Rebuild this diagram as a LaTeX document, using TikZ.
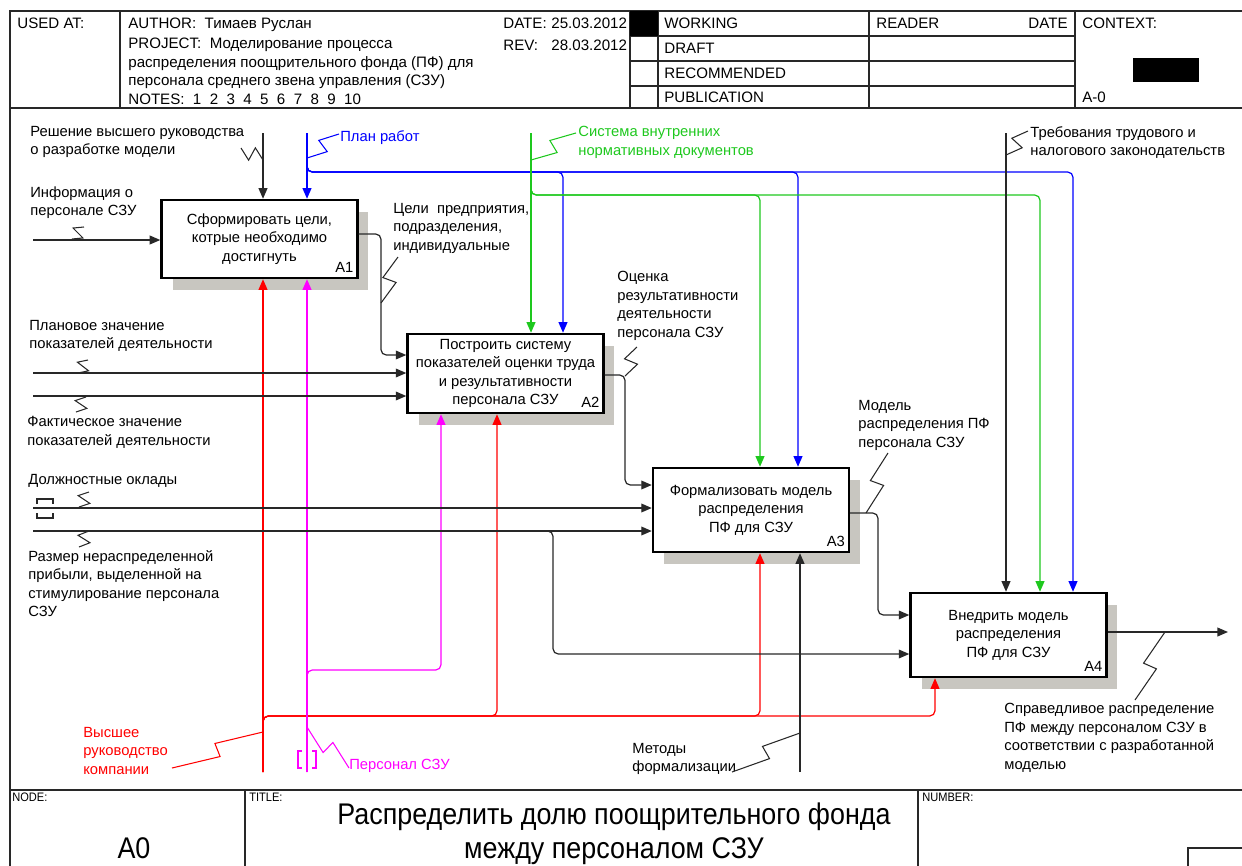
\documentclass[tikz,border=0pt]{standalone}
\usepackage{fontspec}
\setmainfont{Liberation Sans}
\newfontfamily\narrowfont[FakeStretch=0.9]{Liberation Sans}
\usetikzlibrary{arrows.meta,calc,shadows}

\definecolor{shadowgray}{RGB}{200,198,192}
\definecolor{ctrlgreen}{RGB}{30,200,30}
\definecolor{persmag}{RGB}{255,0,255}
\definecolor{lineblack}{RGB}{40,40,40}
\newcommand{\lblfont}{\fontsize{8.4}{10.5}\selectfont}
\newcommand{\hdrfont}{\fontsize{8.6}{10.5}\selectfont}
\newcommand{\smallnarrow}{\narrowfont\fontsize{7}{8}\selectfont}
% squiggle between a label and its arrow
\newcommand{\squig}[3][lineblack]{%
  \draw[#1,line width=0.6pt] (#2) -- ($(#2)!0.5!(#3)!4pt!-90:(#3)$)
    -- ($(#2)!0.5!(#3)!4pt!90:(#3)$) -- (#3);}

\tikzset{
  func/.style={draw=black,line width=1.4pt,fill=white,align=center,inner sep=0pt,
    minimum width=3.92cm,font=\lblfont,
    drop shadow={shadow xshift=0.22cm,shadow yshift=-0.24cm,fill=shadowgray,opacity=1}},
  fnum/.style={anchor=south east,inner sep=0pt,font=\lblfont},
  arr/.style={lineblack,line width=0.7pt,rounded corners=3pt,-{Triangle[length=6pt,width=5pt]}},
  lbl/.style={anchor=north west,align=left,inner sep=0pt,font=\lblfont},
  hdr/.style={anchor=base west,inner sep=0pt,font=\hdrfont},
  frame/.style={draw=lineblack,line width=0.8pt},
  tunnel/.style={line width=0.7pt},
}

\begin{document}
\begin{tikzpicture}[x=0.02cm,y=-0.02cm]
\useasboundingbox (0,0) rectangle (1242,866);

% frame, header and footer
\draw[frame] (10,866) -- (10,11) -- (1242,11);
\draw[frame] (10,108) -- (1242,108);
\draw[frame] (10,790) -- (1242,790);
\foreach \x in {120,630,658,869,1075} \draw[frame] (\x,11) -- (\x,108);
\foreach \y in {36,61,86} \draw[frame] (630,\y) -- (1075,\y);
\fill (630,11) rectangle (658,36);
\fill (1133,58) rectangle (1199,82);
\foreach \x in {245,918} \draw[frame] (\x,790) -- (\x,866);
\draw[frame] (1188,866) |- (1242,848);

\node[hdr] (usedat) at (17,28) {USED AT:};
\node[hdr] (author) at (128,28) {AUTHOR:\ \ Тимаев Руслан};
\node[lbl,font=\hdrfont] (project) at (128,38) {PROJECT:\ \ Моделирование процесса\\распределения поощрительного фонда (ПФ) для\\персонала среднего звена управления (СЗУ)};
\node[hdr] (notes) at (128,104) {NOTES:\ \ 1\ \ 2\ \ 3\ \ 4\ \ 5\ \ 6\ \ 7\ \ 8\ \ 9\ \ 10};
\node[hdr] (date) at (503,28) {DATE:};
\node[hdr] (dateval) at (551,28) {25.03.2012};
\node[hdr] (rev) at (503,50) {REV:};
\node[hdr] (revval) at (551,50) {28.03.2012};
\node[hdr] (working) at (664,28) {WORKING};
\node[hdr] (draft) at (664,53) {DRAFT};
\node[hdr] (recom) at (664,78) {RECOMMENDED};
\node[hdr] (publ) at (664,102) {PUBLICATION};
\node[hdr] (reader) at (876,28) {READER};
\node[hdr,anchor=base east] (rdate) at (1068,28) {DATE};
\node[hdr] (context) at (1082,28) {CONTEXT:};
\node[hdr] (ctxnum) at (1082,102) {A-0};

\node[hdr,font=\smallnarrow] (nodelbl) at (12,801) {NODE:};
\node[hdr,font=\smallnarrow] (titlelbl) at (249,801) {TITLE:};
\node[hdr,font=\smallnarrow] (numlbl) at (922,801) {NUMBER:};
\node[inner sep=0pt,font=\narrowfont\fontsize{17}{19}\selectfont] (nodenum) at (134,848) {A0};
\node[inner sep=0pt,align=center,font=\narrowfont\fontsize{17}{19.3}\selectfont] (title) at (614,834) {Распределить долю поощрительного фонда\\между персоналом СЗУ};

% functions
\node[func,minimum height=1.56cm] (A1) at (259.5,239) {Сформировать цели,\\котрые необходимо\\достигнуть};
\node[fnum] at ($(A1.south east)+(-5,-6)$) {A1};
\node[func,minimum height=1.58cm] (A2) at (505.5,373.5) {Построить систему\\показателей оценки труда\\и результативности\\персонала СЗУ};
\node[fnum] at ($(A2.south east)+(-5,-6)$) {A2};
\node[func,minimum height=1.68cm] (A3) at (751,510) {Формализовать модель\\распределения\\ПФ для СЗУ};
\node[fnum] at ($(A3.south east)+(-5,-6)$) {A3};
\node[func,minimum height=1.68cm] (A4) at (1008.5,635) {Внедрить модель\\распределения\\ПФ для СЗУ};
\node[fnum] at ($(A4.south east)+(-5,-6)$) {A4};

% controls
\coordinate (resh) at (263,133);
\draw[arr] (resh) -- (resh |- A1.north);
\coordinate (plan) at (307,133);
\draw[arr,blue] (plan) -- (plan |- A1.north);
\coordinate (pl2) at (563,172);
\coordinate (pl3) at (798,172);
\coordinate (pl4) at (1073,172);
\foreach \p/\b in {pl2/A2,pl3/A3,pl4/A4}
  \draw[arr,blue] (plan) |- (\p) -- (\p |- \b.north);
\coordinate (sys) at (531,133);
\draw[arr,ctrlgreen] (sys) -- (sys |- A2.north);
\coordinate (sy3) at (760,195);
\coordinate (sy4) at (1040,195);
\foreach \p/\b in {sy3/A3,sy4/A4}
  \draw[arr,ctrlgreen] (sys) |- (\p) -- (\p |- \b.north);
\coordinate (treb) at (1006,133);
\draw[arr] (treb) -- (treb |- A4.north);

% mechanisms
\coordinate (ruk) at (263,772);
\draw[arr,red] (ruk) -- (ruk |- A1.south);
\coordinate (rk2) at (497,716);
\coordinate (rk3) at (760,716);
\coordinate (rk4) at (935,716);
\foreach \p/\b in {rk2/A2,rk3/A3,rk4/A4}
  \draw[arr,red] (ruk) |- (\p) -- (\p |- \b.south);
\coordinate (pers) at (307,772);
\draw[arr,persmag] (pers) -- (pers |- A1.south);
\coordinate (ps2) at (441,670);
\draw[arr,persmag] (pers) |- (ps2) -- (ps2 |- A2.south);
\coordinate (met) at (800,772);
\draw[arr] (met) -- (met |- A3.south);

% inputs
\coordinate (inf) at (33,240);
\draw[arr] (inf) -- (inf -| A1.west);
\coordinate (plv) at (33,373);
\draw[arr] (plv) -- (plv -| A2.west);
\coordinate (fak) at (33,396);
\draw[arr] (fak) -- (fak -| A2.west);
\coordinate (okl) at (33,508);
\draw[arr] (okl) -- (okl -| A3.west);
\coordinate (prib) at (33,531);
\draw[arr] (prib) -- (prib -| A3.west);
\coordinate (pr4) at (553,654);
\draw[arr] (prib) -| (pr4) -- (pr4 -| A4.west);

% outputs
\coordinate (c1) at (381,355);
\draw[arr] ($(A1.east)+(0,-5)$) -| (c1) -- (c1 -| A2.west);
\coordinate (c2) at (625,485);
\draw[arr] ($(A2.east)+(0,1.5)$) -| (c2) -- (c2 -| A3.west);
\coordinate (c3) at (878,615);
\draw[arr] ($(A3.east)+(0,3)$) -| (c3) -- (c3 -| A4.west);
\coordinate (res) at (1228,632);
\draw[arr] (A4.east |- res) -- (res);

% tunnels
\draw[tunnel,persmag] (302,751) -| (298,768) -- (302,768);
\draw[tunnel,persmag] (312,751) -| (316,768) -- (312,768);
\draw[tunnel,lineblack] (37,504) |- (53,499) -- (53,504);
\draw[tunnel,lineblack] (37,513) |- (53,518) -- (53,513);

% labels
\node[lbl] (reshlbl) at (30,126) {Решение высшего руководства\\о разработке модели};
\node[lbl,text=blue] (planlbl) at (340,130) {План работ};
\node[lbl,text=ctrlgreen] (syslbl) at (578,126) {Система внутренних\\нормативных документов};
\node[lbl] (treblbl) at (1030,126) {Требования трудового и\\налогового законодательств};
\node[lbl] (infolbl) at (30,186) {Информация о\\персонале СЗУ};
\node[lbl] (celilbl) at (393,203) {Цели\ \ предприятия,\\подразделения,\\индивидуальные};
\node[lbl] (ocenlbl) at (617,271) {Оценка\\результативности\\деятельности\\персонала СЗУ};
\node[lbl] (planvlbl) at (29,320) {Плановое значение\\показателей деятельности};
\node[lbl] (faktlbl) at (27,416) {Фактическое значение\\показателей деятельности};
\node[lbl] (dolzhlbl) at (28,474) {Должностные оклады};
\node[lbl] (razmlbl) at (28,550) {Размер нераспределенной\\прибыли, выделенной на\\стимулирование персонала\\СЗУ};
\node[lbl] (modellbl) at (858,400) {Модель\\распределения ПФ\\персонала СЗУ};
\node[lbl,text=red] (ruklbl) at (83,727) {Высшее\\руководство\\компании};
\node[lbl,text=persmag] (perslbl) at (349,759) {Персонал СЗУ};
\node[lbl] (metlbl) at (632,743) {Методы\\формализации};
\node[lbl] (spravlbl) at (1004,703) {Справедливое распределение\\ПФ между персоналом СЗУ в\\соответствии с разработанной\\моделью};

% squiggles
\squig{241,148}{263,160}
\squig[blue]{339,134}{307,158}
\squig[ctrlgreen]{576,133}{531,160}
\squig{1028,131}{1006,155}
\squig{84,227}{72,239}
\squig{398,257}{381,303}
\squig{637,347}{625,376}
\squig{88,360}{78,373}
\squig{86,397}{76,412}
\squig{89,492}{79,507}
\squig{89,531}{79,547}
\squig{888,453}{866,513}
\squig[red]{172,768}{263,732}
\squig[persmag]{307,727}{349,768}
\squig{732,772}{800,733}
\squig{1165,632}{1135,700}
\end{tikzpicture}
\end{document}
